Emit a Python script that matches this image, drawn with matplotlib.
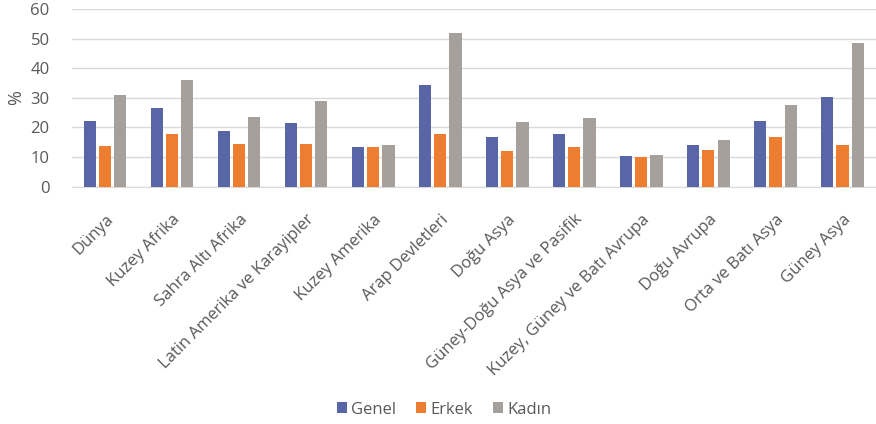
import matplotlib
matplotlib.use('Agg')
import matplotlib.pyplot as plt
import numpy as np

# Bölgeler ve değerler (%)
bolgeler = ['Dünya', 'Kuzey Afrika', 'Sahra Altı Afrika', 'Latin Amerika ve Karayipler',
            'Kuzey Amerika', 'Arap Devletleri', 'Doğu Asya', 'Güney-Doğu Asya ve Pasifik',
            'Kuzey, Güney ve Batı Avrupa', 'Doğu Avrupa', 'Orta ve Batı Asya', 'Güney Asya']
genel = [22.0, 26.7, 18.9, 21.4, 13.5, 34.2, 16.6, 17.9, 10.4, 14.0, 22.0, 30.2]
erkek = [13.6, 17.9, 14.3, 14.3, 13.4, 17.7, 12.1, 13.2, 10.1, 12.2, 16.6, 13.9]
kadin = [30.9, 36.0, 23.5, 28.8, 14.0, 51.8, 21.8, 23.1, 10.5, 15.8, 27.7, 48.6]
seriler = ['Genel', 'Erkek', 'Kadın']
renkler = ['#5866A8', '#ED7D31', '#A5A09C']
y_ticks = [0, 10, 20, 30, 40, 50, 60]

plt.rcParams['font.family'] = ['Open Sans', 'DejaVu Sans']

fig = plt.figure(figsize=(8.76, 4.24), dpi=100)
ax = fig.add_axes([0.082, 0.560, 0.918, 0.419])

x = np.arange(len(bolgeler))
w = 0.18
step = 0.225
for i, (vals, ad, renk) in enumerate(zip([genel, erkek, kadin], seriler, renkler)):
    ax.bar(x + (i - 1) * step, vals, width=w, color=renk, label=ad, zorder=3)

ax.set_xlim(-0.5, len(bolgeler) - 0.5)
ax.set_ylim(0, 60)
ax.set_yticks(y_ticks)
ax.yaxis.grid(True, color='#D9D9D9', linewidth=1, zorder=0)
ax.set_axisbelow(True)
for s in ['top', 'right', 'left']:
    ax.spines[s].set_visible(False)
ax.spines['bottom'].set_color('#D9D9D9')
ax.tick_params(axis='both', length=0, colors='#595959', labelsize=12)
ax.tick_params(axis='y', pad=16)
ax.tick_params(axis='x', pad=18)
ax.set_xticks(x)
ax.set_xticklabels(bolgeler, rotation=45, ha='right', rotation_mode='anchor', color='#595959')
ax.set_ylabel('%', color='#595959', fontsize=13, labelpad=4)

fig.legend(loc='center', bbox_to_anchor=(0.507, 0.034), ncol=3, frameon=False,
           fontsize=12, handlelength=0.6, handleheight=0.6, handletextpad=0.25,
           columnspacing=1.2, labelcolor='#595959')

plt.savefig('out.png', dpi=100)
plt.close()
